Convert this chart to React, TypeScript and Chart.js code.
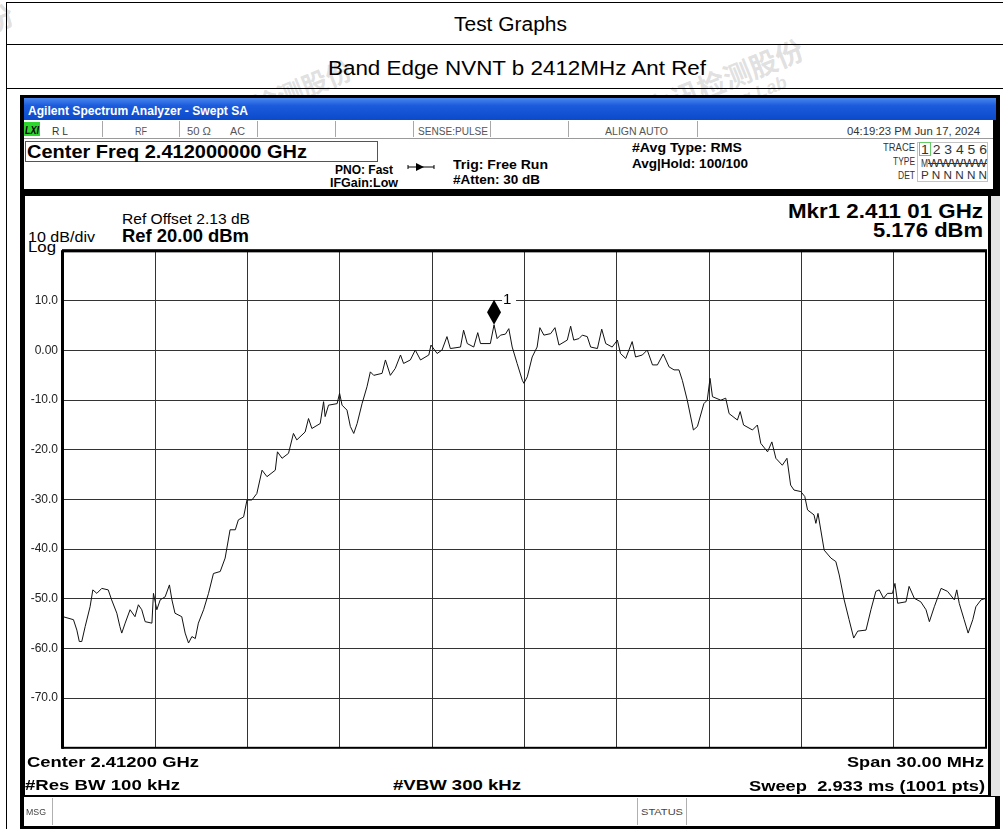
import React, { useEffect, useLayoutEffect, useRef } from 'react';
import { Chart, registerables } from 'chart.js';

Chart.register(...registerables);

// ---------- data (frequency offset from 2.412 GHz in MHz, level in dBm) ----------
const FREQ_MHZ = [
  -15.0, -14.66, -14.55, -14.47, -14.39, -14.28, -14.12, -14.03, -13.9, -13.74,
  -13.53, -13.42, -13.25, -13.15, -13.09, -12.98, -12.82, -12.66, -12.55, -12.44,
  -12.33, -12.11, -12.06, -11.95, -11.84, -11.68, -11.54, -11.46, -11.36, -11.14,
  -11.03, -10.92, -10.81, -10.7, -10.6, -10.43, -10.27, -10.11, -9.89, -9.73,
  -9.57, -9.4, -9.3, -9.13, -9.02, -8.86, -8.7, -8.53, -8.37, -8.1,
  -8.03, -7.88, -7.67, -7.51, -7.4, -7.13, -7.02, -6.91, -6.64, -6.53,
  -6.48, -6.37, -6.09, -6.01, -5.93, -5.77, -5.66, -5.55, -5.44, -5.28,
  -5.12, -5.01, -4.9, -4.63, -4.52, -4.36, -4.2, -4.03, -3.93, -3.71,
  -3.55, -3.38, -3.11, -3.04, -2.84, -2.68, -2.52, -2.41, -2.08, -1.98,
  -1.86, -1.65, -1.52, -1.43, -1.11, -0.99, -0.89, -0.78, -0.62, -0.51,
  -0.4, -0.24, -0.07, -0.02, 0.09, 0.25, 0.41, 0.5, 0.63, 0.85,
  0.99, 1.12, 1.39, 1.5, 1.6, 1.77, 1.88, 2.04, 2.15, 2.37,
  2.51, 2.64, 2.85, 3.02, 3.12, 3.29, 3.5, 3.61, 3.83, 3.99,
  4.16, 4.32, 4.51, 4.7, 4.86, 5.02, 5.13, 5.29, 5.49, 5.62,
  5.83, 5.94, 6.03, 6.11, 6.38, 6.54, 6.65, 6.92, 7.01, 7.12,
  7.41, 7.57, 7.68, 7.9, 8.04, 8.17, 8.38, 8.53, 8.65, 8.76,
  8.98, 9.11, 9.2, 9.41, 9.47, 9.54, 9.74, 9.96, 10.12, 10.23,
  10.39, 10.55, 10.7, 10.83, 11.1, 11.26, 11.42, 11.53, 11.67, 11.8,
  11.96, 12.04, 12.13, 12.4, 12.5, 12.67, 12.88, 13.05, 13.16, 13.32,
  13.54, 13.75, 13.97, 14.05, 14.13, 14.29, 14.42, 14.57, 14.67, 14.84,
  15.0,
];

const LEVEL_DBM = [
  -53.6, -54.2, -56.3, -58.6, -58.6, -55.6, -51.6, -48.2, -48.9, -47.9,
  -48.2, -50.2, -52.9, -55.6, -56.9, -54.9, -52.2, -53.6, -51.2, -52.2,
  -54.6, -54.9, -48.9, -52.2, -50.2, -49.6, -47.2, -50.2, -52.9, -53.6,
  -56.9, -58.9, -57.6, -58.0, -54.9, -52.2, -48.9, -44.9, -44.5, -41.8,
  -36.1, -36.1, -34.1, -33.5, -30.1, -30.1, -28.8, -24.1, -25.4, -24.1,
  -20.4, -21.7, -20.7, -16.7, -18.0, -16.4, -13.7, -15.7, -14.7, -10.3,
  -13.3, -11.0, -10.7, -8.6, -11.0, -12.0, -15.3, -16.7, -14.7, -10.7,
  -7.3, -4.3, -5.0, -4.6, -1.9, -5.0, -3.6, -0.9, -2.6, -1.9,
  0.1, -1.9, -0.9, 1.1, -0.6, 0.1, 2.8, 0.4, 0.7, 4.1,
  1.4, 0.7, 3.6, 1.4, 1.4, 5.18, 2.4, 3.1, 3.3, 4.4,
  0.7, -2.6, -6.0, -6.6, -5.3, -1.3, 0.7, 4.6, 3.1, 3.4,
  4.6, 1.1, 2.1, 4.9, 2.1, 2.4, 3.1, 2.8, 0.7, 0.4,
  4.3, 1.4, 0.7, 2.1, -0.6, -1.6, 1.8, -1.3, -0.9, 0.1,
  -2.9, -2.9, -0.7, -3.3, -3.9, -3.9, -6.0, -10.0, -16.0, -15.3,
  -10.7, -10.0, -5.6, -9.3, -10.0, -9.6, -12.7, -14.0, -12.3, -15.0,
  -16.0, -15.0, -18.7, -20.4, -18.4, -21.7, -23.1, -21.7, -27.1, -28.1,
  -28.4, -29.4, -32.1, -33.1, -34.8, -32.8, -40.2, -41.8, -42.5, -45.2,
  -50.2, -54.2, -57.9, -56.5, -56.3, -52.2, -48.5, -48.2, -49.9, -48.9,
  -48.9, -46.9, -50.9, -50.6, -47.5, -49.9, -50.6, -52.2, -54.6, -51.6,
  -47.9, -48.5, -50.2, -48.2, -50.9, -54.2, -56.9, -54.2, -51.6, -50.2,
  -49.9,
];

const X_MIN = -15;
const X_MAX = 15;
const X_STEP = 3;
const REF_LEVEL = 20;
const BOTTOM_LEVEL = -80;
const DB_PER_DIV = 10;

const MARKER_FREQ = -0.99;
const MARKER_LEVEL = 5.176;
const MARKER_LABEL = '1';

const SANS = '"Liberation Sans", Arial, Helvetica, sans-serif';
const PAGE_W = 1003;

// ---------- text helper: positions text by baseline and fits it to a width ----------
type FitProps = {
  x: number;
  b: number;
  s: number;
  w: number;
  align?: 'left' | 'right' | 'center';
  bold?: boolean;
  italic?: boolean;
  color?: string;
  ff?: string;
  deco?: string;
  children: React.ReactNode;
};

function Fit({ x, b, s, w, align = 'left', bold, italic, color = '#000', ff = SANS, deco, children }: FitProps) {
  const ref = useRef<HTMLSpanElement>(null);
  useLayoutEffect(() => {
    const el = ref.current;
    if (!el) return;
    el.style.transform = 'none';
    const actual = el.getBoundingClientRect().width;
    if (actual > 0) el.style.transform = `scaleX(${w / actual})`;
  }, [w, children]);
  const left = align === 'left' ? x : align === 'right' ? x - w : x - w / 2;
  return (
    <span
      ref={ref}
      style={{
        position: 'absolute',
        left,
        top: b - s * 0.85,
        fontSize: s,
        lineHeight: `${s}px`,
        fontFamily: ff,
        fontWeight: bold ? 700 : 400,
        fontStyle: italic ? 'italic' : 'normal',
        color,
        whiteSpace: 'pre',
        transformOrigin: 'left center',
        textDecoration: deco,
      }}
    >
      {children}
    </span>
  );
}

function Box({ l, t, w, h, bg, border, extra }: { l: number; t: number; w: number; h: number; bg?: string; border?: string; extra?: React.CSSProperties }) {
  return (
    <div
      style={{
        position: 'absolute',
        left: l,
        top: t,
        width: w,
        height: h,
        background: bg,
        border,
        boxSizing: 'border-box',
        ...extra,
      }}
    />
  );
}

// ---------- chart ----------
const framePlugin = {
  id: 'saFrame',
  afterDatasetsDraw(chart: any) {
    const { ctx, chartArea, scales } = chart;
    const { left, top, right, bottom } = chartArea;
    ctx.save();
    ctx.strokeStyle = '#000';
    ctx.lineWidth = 2;
    ctx.strokeRect(left, top, right - left, bottom - top);
    ctx.fillStyle = '#000';
    ctx.fillRect(left - 1, top - 2, right - left + 2, 3);
    ctx.fillRect(left - 2, top - 1, 3, bottom - top + 2);

    // marker diamond
    const mx = scales.x.getPixelForValue(MARKER_FREQ);
    const my = scales.y.getPixelForValue(MARKER_LEVEL);
    ctx.beginPath();
    ctx.moveTo(mx, my);
    ctx.lineTo(mx + 7, my - 12.5);
    ctx.lineTo(mx, my - 25);
    ctx.lineTo(mx - 7, my - 12.5);
    ctx.closePath();
    ctx.fill();

    // marker label with a gap in the grid line behind it
    const ly = my - 25;
    ctx.fillStyle = '#fff';
    ctx.fillRect(mx + 8, ly - 7, 14, 14);
    ctx.fillStyle = '#000';
    ctx.font = `15px ${SANS}`;
    ctx.textBaseline = 'middle';
    ctx.textAlign = 'left';
    ctx.fillText(MARKER_LABEL, mx + 9, ly);
    ctx.restore();
  },
};

function SpectrumChart() {
  const ref = useRef<HTMLCanvasElement>(null);
  useEffect(() => {
    const canvas = ref.current;
    if (!canvas) return;
    const data = FREQ_MHZ.map((f, i) => ({ x: f, y: LEVEL_DBM[i] }));
    const chart = new Chart(canvas, {
      type: 'line',
      data: {
        datasets: [
          {
            data,
            borderColor: '#111',
            borderWidth: 1,
            pointRadius: 0,
            tension: 0,
            fill: false,
          },
        ],
      },
      options: {
        animation: false,
        responsive: false,
        maintainAspectRatio: false,
        events: [],
        layout: { padding: { top: 7, right: 9, bottom: 8, left: 0 } },
        plugins: { legend: { display: false }, tooltip: { enabled: false }, title: { display: false } },
        scales: {
          x: {
            type: 'linear',
            min: X_MIN,
            max: X_MAX,
            ticks: { stepSize: X_STEP, display: false },
            grid: { color: '#333', lineWidth: 1, drawTicks: false },
            border: { display: false },
            afterFit: (s: any) => {
              s.height = 0;
            },
          },
          y: {
            type: 'linear',
            min: BOTTOM_LEVEL,
            max: REF_LEVEL,
            ticks: {
              stepSize: DB_PER_DIV,
              padding: 5,
              color: '#222',
              font: { family: SANS, size: 12 },
              callback: (v: any) => {
                const n = Number(v);
                if (n === REF_LEVEL || n === BOTTOM_LEVEL) return null;
                if (n === 0) return '0.00';
                return n.toFixed(1);
              },
            },
            grid: { color: '#333', lineWidth: 1, drawTicks: false },
            border: { display: false },
            afterFit: (s: any) => {
              s.width = 43;
            },
          },
        },
      },
      plugins: [framePlugin],
    } as any);
    return () => chart.destroy();
  }, []);
  return (
    <canvas
      ref={ref}
      width={975}
      height={521}
      style={{ position: 'absolute', left: 20, top: 239, width: 975, height: 521 }}
    />
  );
}

// ---------- page ----------
function Watermark({ l, t, size = 28 }: { l: number; t: number; size?: number }) {
  return (
    <div
      style={{
        position: 'absolute',
        left: l,
        top: t,
        transform: 'rotate(-22deg)',
        transformOrigin: 'left top',
        color: 'rgba(150,150,150,0.3)',
        whiteSpace: 'nowrap',
      }}
    >
      <div style={{ fontFamily: '"Noto Sans CJK SC", sans-serif', fontSize: size, fontWeight: 700, lineHeight: `${size + 4}px` }}>立讯检测股份</div>
      <div style={{ fontFamily: SANS, fontSize: size * 0.65, fontStyle: 'italic', fontWeight: 700, marginLeft: size * 1.4, lineHeight: '20px' }}>
        Testing Lab
      </div>
    </div>
  );
}

export default function App() {
  const statusSeps = [101.7, 179.3, 257.3, 335, 413.3, 490, 568.3, 696.7];
  return (
    <div
      style={{
        position: 'absolute',
        left: 0,
        top: 0,
        width: PAGE_W,
        height: 829,
        overflow: 'hidden',
        background: '#fff',
      }}
    >
      {/* watermarks */}
      <Watermark l={200} t={112} size={26} />
      <Watermark l={640} t={95} />
      <Watermark l={-150} t={60} />

      {/* report table */}
      <Box l={6} t={2} w={1200} h={1} bg="#000" />
      <Box l={6} t={44} w={1200} h={1} bg="#000" />
      <Box l={6} t={88} w={1200} h={1} bg="#000" />
      <Box l={6} t={2} w={1} h={827} bg="#000" />
      <Fit x={510} b={31} s={20} w={113} align="center">
        Test Graphs
      </Fit>
      <Fit x={517} b={75} s={20} w={378} align="center">
        Band Edge NVNT b 2412MHz Ant Ref
      </Fit>

      {/* analyzer frame */}
      <Box l={20} t={95} w={980} h={740} bg="#000" />
      <Box
        l={24}
        t={98}
        w={972}
        h={22}
        extra={{ background: 'linear-gradient(#4a86ee 0%, #1b5bdc 35%, #0b4acb 100%)' }}
      />
      <Fit x={28} b={115} s={12} w={220} bold color="#fff">
        Agilent Spectrum Analyzer - Swept SA
      </Fit>

      {/* status row + info area */}
      <Box l={24} t={120} w={969} h={69} bg="#fff" />
      <Box l={24} t={138} w={969} h={1} bg="#9a9a9a" />
      {statusSeps.map((x) => (
        <Box key={x} l={x} t={121} w={1} h={16} bg="#a8a8a8" />
      ))}
      <Box l={24} t={122} w={16} h={14} bg="#2fd52f" />
      <Fit x={25} b={134} s={10} w={14} bold italic>
        LXI
      </Fit>
      <Fit x={52} b={135} s={10} w={16} color="#333">
        R L
      </Fit>
      <Fit x={135} b={135} s={10} w={12} color="#555">
        RF
      </Fit>
      <Fit x={187} b={135} s={10} w={24} color="#555">
        50 Ω
      </Fit>
      <Fit x={230} b={135} s={10} w={15} color="#555">
        AC
      </Fit>
      <Fit x={418} b={135} s={10} w={70} color="#555">
        SENSE:PULSE
      </Fit>
      <Fit x={605} b={135} s={10} w={63} color="#555">
        ALIGN AUTO
      </Fit>
      <Fit x={980} b={135} s={10} w={133} align="right" color="#333">
        04:19:23 PM Jun 17, 2024
      </Fit>

      <Box l={25} t={141} w={353} h={21} border="1px solid #555" />
      <Fit x={27} b={158} s={19} w={280} bold>
        Center Freq 2.412000000 GHz
      </Fit>
      <Fit x={335} b={174} s={12} w={58} bold>
        PNO: Fast
      </Fit>
      <Fit x={330} b={187} s={12} w={68} bold>
        IFGain:Low
      </Fit>
      <svg style={{ position: 'absolute', left: 405, top: 160 }} width={32} height={14}>
        <line x1={3} y1={7} x2={29} y2={7} stroke="#000" strokeWidth={1} />
        <polygon points="11,3 19,7 11,11" fill="#000" />
        <line x1={3} y1={5} x2={3} y2={9} stroke="#000" strokeWidth={1} />
        <line x1={29} y1={5} x2={29} y2={9} stroke="#000" strokeWidth={1} />
      </svg>
      <Fit x={453} b={169} s={13} w={95} bold>
        Trig: Free Run
      </Fit>
      <Fit x={453} b={184} s={13} w={87} bold>
        #Atten: 30 dB
      </Fit>
      <Fit x={632} b={152} s={13} w={110} bold>
        #Avg Type: RMS
      </Fit>
      <Fit x={632} b={168} s={13} w={116} bold>
        Avg|Hold: 100/100
      </Fit>

      <Fit x={915} b={151} s={10} w={32} align="right" color="#333">
        TRACE
      </Fit>
      <Fit x={915} b={165} s={10} w={22} align="right" color="#333">
        TYPE
      </Fit>
      <Fit x={915} b={179} s={10} w={17} align="right" color="#333">
        DET
      </Fit>
      <Box l={917} t={142} w={71} h={40} border="1px solid #c4c4c4" />
      <Box l={919} t={142} w={12} h={14} border="1px solid #6c6" />
      <Fit x={921} b={154} s={12} w={66} color="#333">
        1 2 3 4 5 6
      </Fit>
      <Fit x={921} b={167} s={11} w={7} color="#333">
        M
      </Fit>
      <Fit x={928} b={167} s={11} w={59} color="#333" deco="line-through">
        WWWWW
      </Fit>
      <Fit x={921} b={179} s={11} w={66} color="#333">
        P N N N N N
      </Fit>

      {/* lower measurement panel */}
      <Box l={25} t={196} w={963} h={599} bg="#fff" />
      <Box l={991} t={196} w={9} h={600} bg="#e4e4e4" />
      <Fit x={122} b={224} s={15} w={128}>
        Ref Offset 2.13 dB
      </Fit>
      <Fit x={122} b={242} s={18} w={127} bold>
        Ref 20.00 dBm
      </Fit>
      <Fit x={28} b={241.5} s={14} w={67}>
        10 dB/div
      </Fit>
      <Fit x={28} b={252} s={14} w={28}>
        Log
      </Fit>
      <Fit x={983} b={218} s={21} w={195} align="right" bold>
        Mkr1 2.411 01 GHz
      </Fit>
      <Fit x={983} b={237} s={21} w={110} align="right" bold>
        5.176 dBm
      </Fit>

      <SpectrumChart />

      <Fit x={27} b={767} s={15} w={172} bold>
        Center 2.41200 GHz
      </Fit>
      <Fit x={25} b={790} s={15} w={155} bold>
        #Res BW 100 kHz
      </Fit>
      <Fit x={393} b={790} s={15} w={128} bold>
        #VBW 300 kHz
      </Fit>
      <Fit x={984} b={767} s={15} w={137} align="right" bold>
        Span 30.00 MHz
      </Fit>
      <Fit x={985} b={791} s={15} w={236} align="right" bold>
        {'Sweep  2.933 ms (1001 pts)'}
      </Fit>

      {/* message bar */}
      <Box l={24} t={797} w={971} h={29} bg="#fff" />
      <Box l={52} t={798} w={1} h={27} bg="#b0b0b0" />
      <Box l={637} t={798} w={1} h={27} bg="#b0b0b0" />
      <Box l={686} t={798} w={1} h={27} bg="#b0b0b0" />
      <Fit x={26} b={816} s={9} w={20} color="#444">
        MSG
      </Fit>
      <Fit x={641} b={816} s={9} w={42} color="#444">
        STATUS
      </Fit>
    </div>
  );
}
